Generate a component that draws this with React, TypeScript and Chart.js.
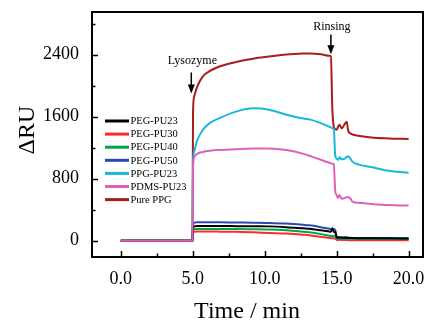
import React, { useEffect, useRef } from "react";
import { Chart, registerables } from "chart.js";

Chart.register(...registerables);

// Shared time axis (min)
const time = [0, 2.5, 4.98, 5.02, 5.1, 5.3, 5.7, 6.2, 6.9, 8.0, 9.2, 10.3, 11.5, 12.7, 13.1, 13.9, 14.5, 14.6, 14.7, 14.8, 14.9, 15.0, 15.1, 15.2, 15.35, 15.55, 15.7, 15.8, 15.95, 16.1, 16.5, 17.4, 18.6, 20.0];

const pegPU23 = [0, 0, 0, 150, 185, 190, 190, 190, 189, 188, 187, 185, 175, 160, 155, 135, 118, 115, 160, 115, 110, 45, 40, 42, 38, 37, 38, 36, 35, 34, 33, 32, 31, 30];
const pegPU30 = [0, 0, 0, 100, 117, 118, 118, 118, 117, 115, 108, 100, 92, 78, 72, 50, 35, 33, 31, 30, 28, 12, 8, 15, 9, 8, 9, 7, 6, 6, 6, 5, 5, 5];
const pegPU40 = [0, 0, 0, 130, 147, 150, 150, 150, 150, 150, 148, 145, 135, 117, 108, 85, 65, 62, 60, 58, 55, 28, 25, 32, 26, 25, 27, 25, 24, 24, 23, 23, 22, 22];
const pegPU50 = [0, 0, 0, 200, 233, 238, 238, 238, 237, 235, 233, 230, 222, 205, 198, 175, 155, 150, 148, 147, 140, 50, 42, 45, 42, 40, 45, 40, 38, 36, 35, 34, 33, 32];
const ppgPU23 = [0, 0, 0, 1000, 1150, 1290, 1430, 1520, 1585, 1665, 1708, 1690, 1625, 1575, 1565, 1517, 1470, 1462, 1452, 1445, 1100, 1060, 1043, 1075, 1050, 1060, 1080, 1088, 1060, 1020, 985, 950, 901, 878];
const pdmsPU23 = [0, 0, 0, 950, 1080, 1120, 1145, 1160, 1170, 1180, 1188, 1190, 1170, 1120, 1095, 1045, 1005, 998, 994, 990, 640, 590, 550, 590, 540, 550, 560, 565, 545, 505, 490, 475, 460, 453];
const purePPG = [0, 0, 0, 1650, 1860, 1980, 2120, 2190, 2250, 2305, 2348, 2375, 2402, 2415, 2416, 2405, 2385, 2378, 1700, 1470, 1440, 1430, 1470, 1495, 1450, 1500, 1535, 1420, 1385, 1370, 1355, 1332, 1320, 1313];

const seriesNames = ["PEG-PU23", "PEG-PU30", "PEG-PU40", "PEG-PU50", "PPG-PU23", "PDMS-PU23", "Pure PPG"];
const seriesValues = [pegPU23, pegPU30, pegPU40, pegPU50, ppgPU23, pdmsPU23, purePPG];
const seriesColors = ["#000000", "#ff2a2a", "#00a550", "#2a48b0", "#18b8d8", "#e060b4", "#a81c1c"];
// lower = drawn on top
const seriesOrder = [1, 4, 3, 2, 5, 0, 6];

const xTicks = [0, 5, 10, 15, 20];
const xMinor = [2.5, 7.5, 12.5, 17.5];
const yTicks = [0, 800, 1600, 2400];
const yMinor = [400, 1200, 2000, 2800];

const lysozymeNote = { label: "Lysozyme", t: 4.9, textY: 2275, y1: 2170, y2: 1900 };
const rinsingNote = { label: "Rinsing", t: 14.6, textY: 2720, y1: 2660, y2: 2405 };

const FONT = "'Liberation Serif', 'Times New Roman', serif";

const overlay = {
  id: "overlay",
  afterDraw(chart: any) {
    const { ctx, chartArea: a, scales } = chart;
    const xs = scales.x;
    const ys = scales.y;
    ctx.save();
    ctx.strokeStyle = "#000";
    ctx.fillStyle = "#000";
    ctx.lineWidth = 1.5;
    ctx.beginPath();
    for (const v of xTicks) {
      const px = Math.round(xs.getPixelForValue(v)) + 0.5;
      ctx.moveTo(px, a.bottom);
      ctx.lineTo(px, a.bottom - 6);
    }
    for (const v of xMinor) {
      const px = Math.round(xs.getPixelForValue(v)) + 0.5;
      ctx.moveTo(px, a.bottom);
      ctx.lineTo(px, a.bottom - 3.5);
    }
    for (const v of yTicks) {
      const py = Math.round(ys.getPixelForValue(v)) + 0.5;
      ctx.moveTo(a.left, py);
      ctx.lineTo(a.left + 6, py);
    }
    for (const v of yMinor) {
      const py = Math.round(ys.getPixelForValue(v)) + 0.5;
      ctx.moveTo(a.left, py);
      ctx.lineTo(a.left + 3.5, py);
    }
    ctx.stroke();
    ctx.lineWidth = 2;
    ctx.strokeRect(a.left, a.top, a.right - a.left, a.bottom - a.top);

    ctx.font = `24px ${FONT}`;
    ctx.textAlign = "center";
    ctx.textBaseline = "alphabetic";
    ctx.fillText("Time / min", 247, 318);
    ctx.save();
    ctx.translate(34, 130);
    ctx.rotate(-Math.PI / 2);
    ctx.fillText("ΔRU", 0, 0);
    ctx.restore();

    for (const n of [lysozymeNote, rinsingNote]) {
      const px = xs.getPixelForValue(n.t);
      ctx.font = `12px ${FONT}`;
      ctx.textAlign = "center";
      ctx.textBaseline = "alphabetic";
      ctx.fillText(n.label, px + 1, ys.getPixelForValue(n.textY));
      const y1 = ys.getPixelForValue(n.y1);
      const y2 = ys.getPixelForValue(n.y2);
      ctx.lineWidth = 1.5;
      ctx.beginPath();
      ctx.moveTo(px, y1);
      ctx.lineTo(px, y2 - 6);
      ctx.stroke();
      ctx.beginPath();
      ctx.moveTo(px - 3.5, y2 - 9);
      ctx.lineTo(px + 3.5, y2 - 9);
      ctx.lineTo(px, y2);
      ctx.closePath();
      ctx.fill();
    }

    ctx.font = `10.5px ${FONT}`;
    ctx.textAlign = "left";
    ctx.textBaseline = "middle";
    seriesNames.forEach((name, i) => {
      const ly = 121 + i * 13.1;
      ctx.strokeStyle = seriesColors[i];
      ctx.lineWidth = 3;
      ctx.beginPath();
      ctx.moveTo(105, ly);
      ctx.lineTo(129, ly);
      ctx.stroke();
      ctx.fillStyle = "#000";
      ctx.fillText(name, 130.5, ly + 0.5);
    });
    ctx.restore();
  },
};

export default function App() {
  const ref = useRef<HTMLCanvasElement | null>(null);
  useEffect(() => {
    if (!ref.current) return;
    const datasets = seriesNames.map((name, i) => ({
      label: name,
      data: time.map((t, k) => ({ x: t, y: seriesValues[i][k] })),
      borderColor: seriesColors[i],
      backgroundColor: seriesColors[i],
      borderWidth: 2,
      pointRadius: 0,
      fill: false,
      cubicInterpolationMode: "monotone" as const,
      order: seriesOrder[i],
    }));
    const chart = new Chart(ref.current, {
      type: "line",
      data: { datasets },
      options: {
        animation: false,
        responsive: false,
        devicePixelRatio: 1,
        layout: { padding: { left: 0, right: 2, top: 12, bottom: 0 } },
        plugins: { legend: { display: false }, tooltip: { enabled: false } },
        scales: {
          x: {
            type: "linear",
            min: -2,
            max: 21,
            grid: { display: false },
            border: { display: false },
            ticks: {
              color: "#000",
              font: { family: FONT, size: 18 },
              padding: 3,
              maxRotation: 0,
              callback: (v: any) => Number(v).toFixed(1),
            },
            afterBuildTicks: (s: any) => {
              s.ticks = xTicks.map((v) => ({ value: v }));
            },
            afterFit: (s: any) => {
              s.height = 64;
              s.paddingLeft = 0;
              s.paddingRight = 0;
            },
          },
          y: {
            type: "linear",
            min: -210,
            max: 2950,
            grid: { display: false },
            border: { display: false },
            ticks: {
              color: "#000",
              font: { family: FONT, size: 18 },
              padding: 5,
              callback: (v: any) => String(v),
            },
            afterBuildTicks: (s: any) => {
              s.ticks = yTicks.map((v) => ({ value: v }));
            },
            afterFit: (s: any) => {
              s.width = 92;
              s.paddingTop = 0;
              s.paddingBottom = 0;
            },
          },
        },
      },
      plugins: [overlay],
    });
    return () => chart.destroy();
  }, []);
  return (
    <div style={{ position: "absolute", left: 0, top: 0, width: 425, height: 321, background: "#fff" }}>
      <canvas ref={ref} width={425} height={321} />
    </div>
  );
}
